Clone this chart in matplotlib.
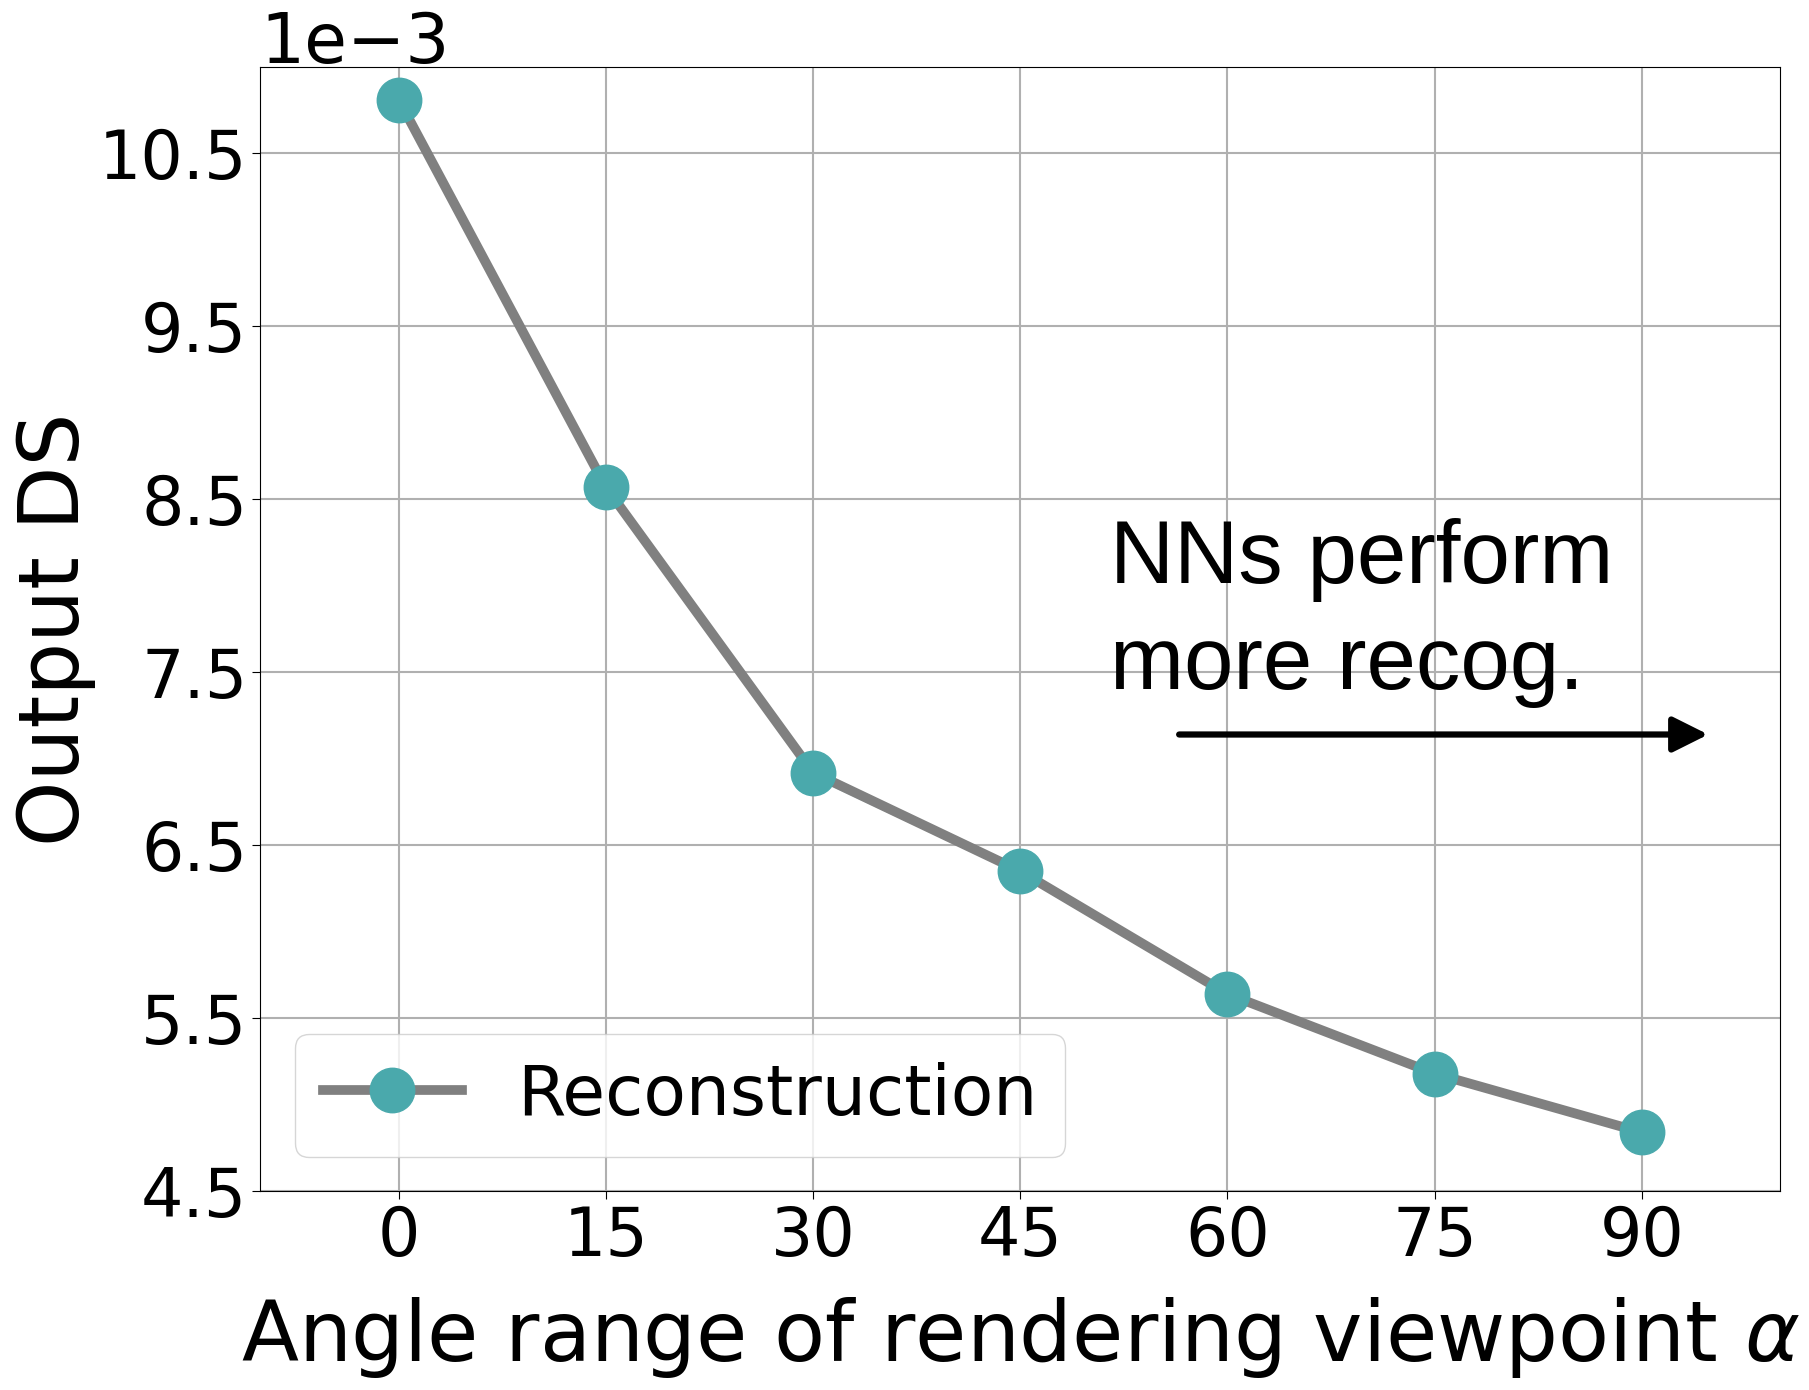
import numpy as np
import matplotlib
matplotlib.use('Agg')
import matplotlib.pyplot as plt

# Angle range of the rendering viewpoint (degrees) vs. output DS
angles = [0, 15, 30, 45, 60, 75, 90]
ds_mean = [10.81e-3, 8.57e-3, 6.92e-3, 6.35e-3, 5.64e-3, 5.18e-3, 4.84e-3]
ds_std = [0.04e-3, 0.03e-3, 0.03e-3, 0.02e-3, 0.02e-3, 0.02e-3, 0.02e-3]
y_ticks = [4.5e-3, 5.5e-3, 6.5e-3, 7.5e-3, 8.5e-3, 9.5e-3, 10.5e-3]

LINE_C = '#808080'
MARK_C = '#4aa9ac'

fig = plt.figure(figsize=(18.09, 13.9), dpi=100)
ax = fig.add_axes([0.144, 0.143, 0.840, 0.809])

mean = np.asarray(ds_mean)
std = np.asarray(ds_std)
ax.fill_between(angles, mean-std, mean+std, color=MARK_C, alpha=0.3, lw=0)
ax.plot(angles, mean, color=LINE_C, lw=7, marker='o', markersize=32,
        markerfacecolor=MARK_C, markeredgecolor=MARK_C, label='Reconstruction')

ax.set_xlim(-10, 100)
ax.set_ylim(4.5e-3, 11.0e-3)
ax.set_xticks(angles)
ax.set_yticks(y_ticks)
ax.ticklabel_format(axis='y', style='sci', scilimits=(-3, -3))
ax.tick_params(labelsize=48, length=6)
ax.yaxis.get_offset_text().set_fontsize(50)
ax.grid(True, color='#b0b0b0', lw=1.5)
ax.set_axisbelow(True)

ax.set_xlabel(r'Angle range of rendering viewpoint $\alpha$', fontsize=60, labelpad=18)
ax.set_ylabel('Output DS', fontsize=60, labelpad=2)

ax.legend(loc='lower left', fontsize=50)

ax.text(51.5, 8.39e-3, 'NNs perform\nmore recog.', fontsize=64,
        family=['Liberation Sans', 'DejaVu Sans'], ha='left', va='top',
        linespacing=1.33)
ax.annotate('', xy=(95.0, 7.14e-3), xytext=(56.3, 7.14e-3),
            arrowprops=dict(arrowstyle='-|>', lw=4.5, color='black',
                            mutation_scale=54))

fig.savefig('out.png', dpi=100)
